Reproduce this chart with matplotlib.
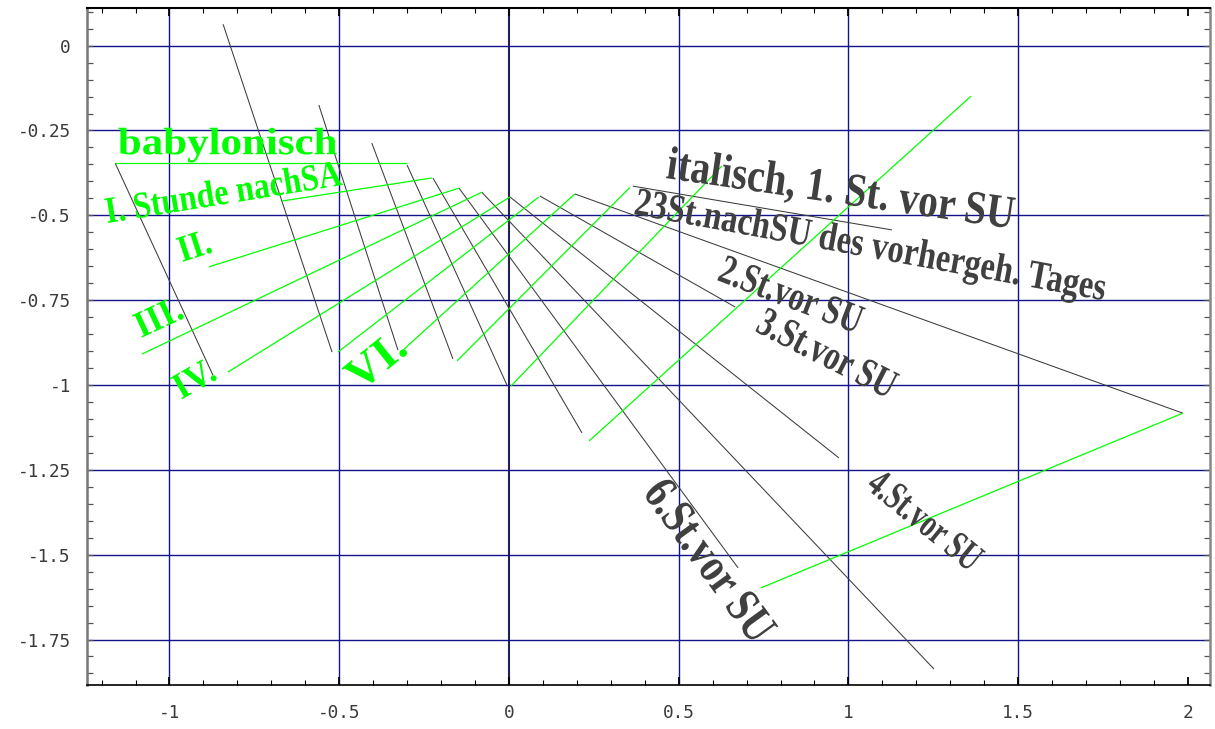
import numpy as np
import matplotlib
matplotlib.use("Agg")
import matplotlib.pyplot as plt
from matplotlib import patheffects
from matplotlib.transforms import Affine2D
from matplotlib.textpath import TextPath
from matplotlib.font_manager import FontProperties
from matplotlib.ticker import MultipleLocator, FuncFormatter

# Italian hour lines: start point (upper curve) and end point (lower curve)
italic_x0 = [-1.160, -0.842, -0.560, -0.404, -0.300, -0.224, -0.147, -0.080, 0.003, 0.091, 0.194, 0.365]
italic_y0 = [-0.346, 0.063, -0.175, -0.287, -0.352, -0.390, -0.420, -0.432, -0.446, -0.443, -0.437, -0.414]
italic_x1 = [-0.872, -0.521, -0.327, -0.165, -0.006, 0.215, 0.675, 1.252, 0.972, 0.666, 1.985, 1.128]
italic_y1 = [-0.971, -0.903, -0.897, -0.923, -1.000, -1.141, -1.539, -1.837, -1.215, -0.770, -1.083, -0.543]

# Babylonian hour lines: lower end and upper end
baby_x0 = [-1.160, -0.669, -0.884, -1.081, -0.828, -0.504, -0.312, -0.153, 0.006, 0.236, 0.742]
baby_y0 = [-0.346, -0.458, -0.652, -0.909, -0.962, -0.903, -0.897, -0.929, -1.003, -1.165, -1.598]
baby_x1 = [-0.300, -0.227, -0.147, -0.080, 0.003, 0.088, 0.194, 0.356, 0.627, 1.361, 1.985]
baby_y1 = [-0.346, -0.390, -0.420, -0.432, -0.446, -0.446, -0.437, -0.418, -0.355, -0.149, -1.083]

# Grid positions
x_grid = [-1.0, -0.5, 0.0, 0.5, 1.0, 1.5]
y_grid = [0.0, -0.25, -0.5, -0.75, -1.0, -1.25, -1.5, -1.75]

# Line labels
babylonian_labels = ["babylonisch", "I. Stunde nachSA", "II.", "III.", "IV.", "VI."]
italian_labels = ["italisch, 1. St. vor SU", "23St.nachSU des vorhergeh. Tages",
                  "2.St.vor SU", "3.St.vor SU", "4.St.vor SU", "6.St.vor SU"]

GREEN = "#00ff00"
INK = "#3c3c3c"
GRID = "#12128a"

# label placement: baseline start (data), angle, run length (px), glyph height size (pt), weight
babylonian_style = [
    (-1.152, -0.320, 0.0, 219, 27.5, "bold"),
    (-1.184, -0.523, 9.2, 239, 27.0, "bold"),
    (-0.963, -0.638, 18.0, 32, 27.0, "bold"),
    (-1.084, -0.862, 25.0, 48, 27.0, "bold"),
    (-0.966, -1.044, 30.0, 42, 27.0, "bold"),
    (-0.439, -1.021, 39.0, 62, 33.0, "bold"),
]
italian_style = [
    (0.460, -0.390, -8.3, 350, 34.0, "bold"),
    (0.365, -0.496, -10.4, 478, 29.0, "bold"),
    (0.610, -0.690, -21.0, 150, 30.0, "bold"),
    (0.722, -0.840, -27.0, 150, 30.0, "bold"),
    (1.049, -1.303, -39.0, 134, 29.0, "bold"),
    (0.392, -1.318, -54.0, 188, 35.0, "bold"),
]


class Stretch(patheffects.AbstractPathEffect):
    """Scale glyph outlines vertically, away from the baseline."""

    def __init__(self, sy):
        super().__init__()
        self._sy = sy

    def draw_path(self, renderer, gc, tpath, affine, rgbFace=None):
        renderer.draw_path(gc, tpath, Affine2D().scale(1.0, self._sy) + affine, rgbFace)


fig = plt.figure(figsize=(12.15, 7.29), dpi=100)
W, H = 1215, 729
ax = fig.add_axes([87.3 / W, 1 - 685 / H, (1210 - 87.3) / W, (685 - 8.3) / H])
ax.set_xlim(-1.242, 2.065)
ax.set_ylim(-1.884, 0.110)

for gx in x_grid:
    if gx == 0.0:
        ax.axvline(gx, color="#22224f", lw=1.5, zorder=1)
    else:
        ax.axvline(gx, color=GRID, lw=1.0, zorder=1)
for gy in y_grid:
    ax.axhline(gy, color=GRID, lw=1.0, zorder=1)

for xa, ya, xb, yb in zip(italic_x0, italic_y0, italic_x1, italic_y1):
    ax.plot([xa, xb], [ya, yb], color=INK, lw=0.75, zorder=2, solid_capstyle="butt")
for xa, ya, xb, yb in zip(baby_x0, baby_y0, baby_x1, baby_y1):
    ax.plot([xa, xb], [ya, yb], color=GREEN, lw=0.9, zorder=2, solid_capstyle="butt")


def put_label(s, spec, color):
    x, y, ang, length, size, weight = spec
    probe = FontProperties(family="Liberation Serif", weight=weight, size=size)
    natural = TextPath((0, 0), s, size=size, prop=probe).get_extents().x1 * fig.dpi / 72
    # font size giving the wanted run length; glyph height restored by the effect
    fs = size * length / natural
    fp = FontProperties(family="Liberation Serif", weight=weight, size=fs)
    ax.text(x, y, s, fontproperties=fp, color=color, rotation=ang,
            rotation_mode="anchor", ha="left", va="baseline", zorder=3,
            path_effects=[Stretch(size / fs)])


for s, spec in zip(babylonian_labels, babylonian_style):
    put_label(s, spec, GREEN)
for s, spec in zip(italian_labels, italian_style):
    put_label(s, spec, "#404040")

# axes frame and ticks
ax.xaxis.set_major_locator(MultipleLocator(0.5))
ax.xaxis.set_minor_locator(MultipleLocator(0.1))
ax.yaxis.set_major_locator(MultipleLocator(0.25))
ax.yaxis.set_minor_locator(MultipleLocator(0.05))
fmt = FuncFormatter(lambda v, p: f"{round(v, 6) + 0.0:g}")
ax.xaxis.set_major_formatter(fmt)
ax.yaxis.set_major_formatter(fmt)
ax.tick_params(which="both", direction="in", top=True, right=True)
ax.tick_params(axis="x", which="major", length=6, width=1.3, color="black", pad=14)
ax.tick_params(axis="x", which="minor", length=3.5, width=0.8, color="black")
ax.tick_params(axis="y", which="major", length=4, width=0.9, color="#555555", pad=12)
ax.tick_params(axis="y", which="minor", length=4, width=0.9, color="#555555")
for lab in ax.get_xticklabels() + ax.get_yticklabels():
    lab.set_fontfamily("DejaVu Sans Mono")
    lab.set_fontsize(12.8)
    lab.set_color("#3a3a3a")

ax.spines["top"].set_color("black")
ax.spines["top"].set_linewidth(1.5)
ax.spines["bottom"].set_color("black")
ax.spines["bottom"].set_linewidth(1.2)
ax.spines["left"].set_color("#777777")
ax.spines["left"].set_linewidth(1.8)
ax.spines["right"].set_color("#888888")
ax.spines["right"].set_linewidth(1.8)

fig.savefig("out.png", dpi=100)
